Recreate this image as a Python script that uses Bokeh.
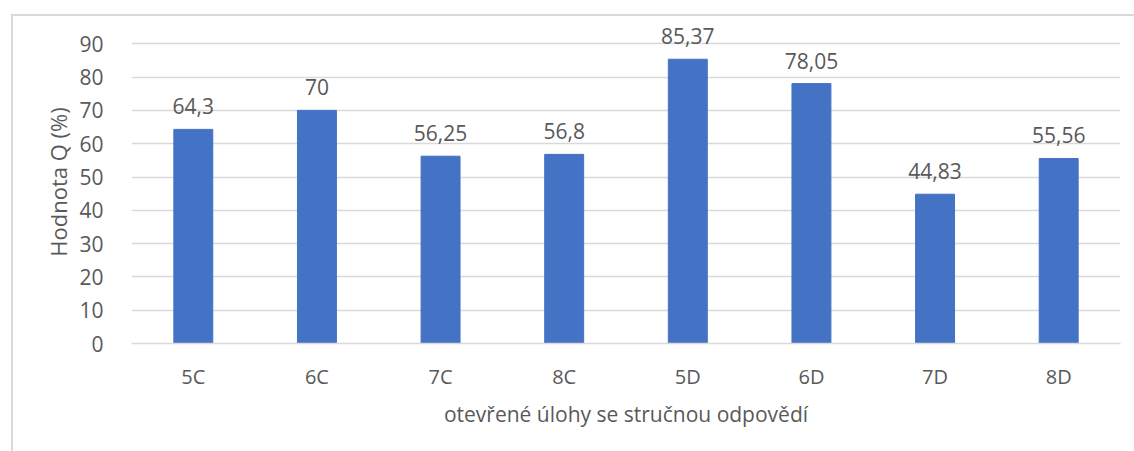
from bokeh.plotting import figure
from bokeh.models import ColumnDataSource, FixedTicker
from bokeh.core.properties import value
from bokeh.embed import file_html
from bokeh.resources import INLINE

categories = ["5C", "6C", "7C", "8C", "5D", "6D", "7D", "8D"]
values = [64.3, 70, 56.25, 56.8, 85.37, 78.05, 44.83, 55.56]
labels = ["64,3", "70", "56,25", "56,8", "85,37", "78,05", "44,83", "55,56"]
y_ticks = [0, 10, 20, 30, 40, 50, 60, 70, 80, 90]

FONT = "Open Sans"
TXT = "#595959"

src = ColumnDataSource(dict(cat=categories, val=values, lab=labels))

p = figure(width=1123, height=437, x_range=categories, y_range=(0, 97),
           output_backend="svg", toolbar_location=None,
           min_border_left=118, min_border_right=16, min_border_top=4, min_border_bottom=110,
           margin=(14, 0, 0, 11))
p.styles = {"border-top": "2px solid #D9D9D9", "border-left": "2px solid #D9D9D9"}
p.outline_line_color = None
p.background_fill_color = "white"
p.border_fill_color = "white"

p.vbar(x="cat", top="val", width=0.315, source=src, color="#4472C4")
p.text(x="cat", y="val", text="lab", source=src, text_align="center", text_baseline="bottom",
       y_offset=-15, text_font=value(FONT), text_font_size="21px", text_color=TXT)

p.xgrid.grid_line_color = None
p.ygrid.grid_line_color = "#D9D9D9"
p.ygrid.grid_line_width = 1.5
p.yaxis.ticker = FixedTicker(ticks=y_ticks)

for ax in (p.xaxis[0], p.yaxis[0]):
    ax.major_tick_line_color = None
    ax.minor_tick_line_color = None
    ax.major_label_text_font = FONT
    ax.major_label_text_font_size = "20px"
    ax.major_label_text_color = TXT
    ax.axis_label_text_font = FONT
    ax.axis_label_text_font_size = "21px"
    ax.axis_label_text_font_style = "normal"
    ax.axis_label_text_color = TXT

p.yaxis.major_label_text_font_size = "21px"
p.yaxis.axis_label_text_font_size = "22px"
p.yaxis.axis_line_color = None
p.xaxis.axis_line_color = "#D9D9D9"
p.xaxis.axis_line_width = 1.5
p.yaxis.major_label_standoff = 22
p.xaxis.major_label_standoff = 13
p.yaxis.axis_label = "Hodnota Q (%)"
p.xaxis.axis_label = "otevřené úlohy se stručnou odpovědí"
p.yaxis.axis_label_standoff = 3
p.xaxis.axis_label_standoff = 7

open("out.html", "w").write(file_html(p, INLINE))
